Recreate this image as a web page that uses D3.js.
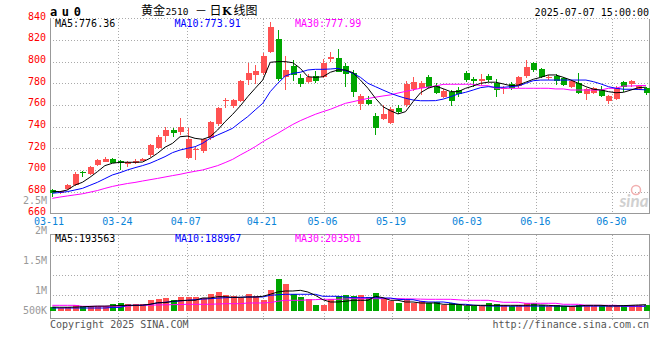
<!DOCTYPE html>
<html>
<head>
<meta charset="utf-8">
<script src="https://cdn.jsdelivr.net/npm/d3@7"></script>
<style>
  body { margin: 0; background: #fff; }
  svg { display: block; }
  text { font-family: "DejaVu Sans Mono", monospace; font-size: 10px; }
</style>
</head>
<body>
<div id="chart"></div>
<script>
// trading days shown (au2510, daily)
var dates = [
  "03-11","03-12","03-13","03-14","03-17","03-18","03-19","03-20","03-21","03-24","03-25","03-26","03-27","03-28","03-31",
  "04-01","04-02","04-03","04-07","04-08","04-09","04-10","04-11","04-14","04-15","04-16","04-17","04-18","04-21","04-22",
  "04-23","04-24","04-25","04-28","04-29","04-30",
  "05-06","05-07","05-08","05-09","05-12","05-13","05-14","05-15","05-16","05-19","05-20","05-21","05-22","05-23",
  "05-26","05-27","05-28","05-29","05-30",
  "06-03","06-04","06-05","06-06","06-09","06-10","06-11","06-12","06-13","06-16","06-17","06-18","06-19","06-20",
  "06-23","06-24","06-25","06-26","06-27","06-30",
  "07-01","07-02","07-03","07-04","07-07"
]

var open = [681.2,679,682.2,686,698.4,696.3,704.6,707.6,710,708.3,705.5,706.7,708.6,713.8,720.6,731.6,737.2,735.3,710.9,718.4,
  717.5,729.2,742.4,763.4,759.3,764,783,787.7,789.2,809.2,820.9,786,796,784.6,781.5,786.7,785.5,802.2,803.6,796,
  789.2,760.6,764.6,749.8,746.8,743.6,757.2,760,774.5,775.4,785.5,777.5,767.6,772,773.8,789.8,784,782.4,787,780.6,
  774.5,779,777.5,786.7,798.5,793.2,784.9,786.7,784.6,776.9,780,769.9,771.3,773.8,764,765.5,781,779,774.8,776]
var high = [682.2,681,687,698.5,699,703.5,710,712,711.5,709,708,710,711.5,724,732,739.4,738.7,748,738.5,721.5,
  729,745.5,758.5,766.7,765.5,783,798.5,797,808,836.9,829.2,805.2,801.5,789,789,791.5,802.2,809.2,811.4,798.5,
  792.3,770,768.5,752.3,760,757.8,760,782.4,785.5,782.4,787.5,780,775,773.8,776.9,791,786,789,788.5,784,
  777.5,781,787,801.5,800,794,787.5,789,785.5,783.5,789.2,775.4,777,777.5,769.2,777.5,782,783.5,778.5,777]
var low = [675.3,678,681.5,685.5,693.8,695.5,704,707,706,700,703,705.5,708,712,719.5,726.1,730.2,732.3,710.5,709.2,
  716,728,741,757,757,763,778.4,779,788,807.7,782.1,773.8,782,776.9,780,780,784.6,800,790.2,776.9,
  767.6,755.3,760,732.3,746,742.4,751.7,757.8,773.2,769.2,776,770,766,759.3,767.6,781,776.9,778.4,781.5,767,
  769.9,773.8,776,785,790,784.6,783.5,778.4,777.5,775.4,770,764.6,770.5,767,760.6,764.6,772,776.5,773.5,769.5]
var close = [678.5,680.5,686,696,697.5,703,709.2,710.4,706.7,706.2,707,708.6,710.4,722.8,730.7,736.9,733.9,740,728.4,719.6,
  728.6,744.6,756.9,764.6,764.6,782,789.2,791.4,805.2,832.3,783.7,792.3,787.7,779.4,785.5,781.8,798.5,804.6,790.7,788.6,
  772.3,768.3,760.9,739,751.7,756,753.8,779.4,781.2,780.6,776.9,771.3,773.2,764,770.2,783,782,784,783,773.8,
  775.4,776,786.1,795.3,792.3,785.5,786.1,782.4,778.4,782.1,770.8,774.5,776,768.3,768.6,776,776.9,782.1,777.5,771.3]

var ma5 = [680.3,680,681.5,686,688.6,693.2,698.4,704,706.2,707.1,707.1,707.1,707.3,710.8,715.4,721,724.6,730.7,731.3,729.2,
  728.3,730.7,736.9,744.6,751.4,759,767.6,775.4,783,799.4,800,800,799,793.8,786.1,785.5,786,790.2,792.3,792.3,
  789.8,783,775.4,766.2,758.4,754.7,751.7,753.8,763,771.3,775.4,777.5,775,772.3,772.3,775.4,777.5,780,781,781,
  779.4,777.8,778.4,781,783.7,785.5,787.7,787.7,785.5,783,780,776.9,774.5,773.8,772.3,771.3,771.7,773.8,776,776.4]
var ma10 = [678.5,679.2,680,681.5,683,685.8,688.6,692,695.4,697.5,700,702.1,704,706.2,709.2,712.3,716,718.4,720,721.5,
  724.6,729.2,732.3,735.3,738.5,744,749.2,755.4,761.5,772.3,780,786.7,789.2,790.2,792.3,792.9,792.9,793.2,793.8,791.6,
  789.2,785.5,780,776.9,773.8,770.8,768.3,766.2,764.6,763.9,763.9,764,765.4,767.6,770.1,771.7,773.8,776,776.9,776.3,
  776.3,776.9,777.5,780,782.4,783,783,783,783,783,783,783,781.5,779.4,776.9,775.4,774.5,774.5,774.3,774]
var ma30 = [673.8,675,676,677,678,679.5,681,683,684.8,686.2,687.5,688.5,689.8,691,692.2,693.5,694.8,696,697.5,698.8,
  700,702,704,706.8,709.8,713.8,717.5,721.5,726,730,733.8,738,742,745.5,748.5,751.4,753.8,756,758.8,761.5,
  763,764.6,766,767.2,768.3,769.3,771,772.5,774,775.4,776.5,777.5,779,779.1,779.1,779.1,779.1,777.8,777.8,775.5,
  775.4,775.4,775.4,775.4,775.4,775.4,775.4,774.8,774.8,773.8,773.8,773.8,773.8,773.8,775.4,775.4,777.5,777.5,777.9,778]

// volume, lots
var volume = [123000,92000,123000,175000,145000,145000,145000,145000,215000,246000,206000,206000,206000,338000,360000,400000,329000,431000,431000,431000,
  400000,523000,585000,483000,452000,409000,523000,462000,338000,646000,994000,831000,514000,431000,360000,194000,194000,360000,452000,483000,
  462000,502000,431000,554000,360000,298000,246000,360000,246000,308000,246000,277000,194000,246000,206000,154000,154000,154000,246000,206000,
  175000,145000,194000,237000,237000,194000,145000,194000,145000,145000,194000,175000,145000,175000,145000,175000,194000,194000,194000,194000]
var volMa5 = [120,115,115,120,130,140,150,150,160,170,175,175,180,206,256,256,298,320,329,329,
  400,400,440,440,421,421,431,431,452,514,585,615,615,636,585,483,348,277,277,298,
  329,329,329,452,410,329,329,277,277,246,246,246,206,206,206,175,175,175,175,175,
  175,175,175,175,185,185,175,160,150,140,150,175,175,175,160,160,165,175,185,194]
var volMa10 = [92,92,92,92,92,92,92,92,110,110,175,175,175,206,246,270,290,308,330,349,
  365,379,395,410,415,421,431,431,431,483,500,514,514,514,514,514,452,452,452,430,
  410,410,410,410,400,400,360,348,348,300,277,277,277,250,206,206,180,165,155,150,
  150,150,150,150,150,150,150,150,150,150,150,150,150,150,150,150,150,150,150,150]
var volMa30 = [175,175,175,175,145,145,145,145,145,145,145,175,175,180,185,190,195,200,206,206,
  206,210,215,225,225,225,246,246,246,260,300,329,329,329,340,350,360,360,360,370,
  379,379,379,379,379,379,379,375,370,365,360,360,360,360,345,329,329,329,329,298,
  268,268,268,237,237,237,237,237,206,206,206,175,175,175,175,175,145,145,145,145]

var priceTicks = [660,680,700,720,740,760,780,800,820,840]
var volTicks = [500000,1000000,1500000,2000000,2500000]
var volTickLabels = ["500K","1M","1.5M","2M","2.5M"]
var dateTicks = ["03-11","03-24","04-07","04-21","05-06","05-19","06-03","06-16","06-30"]

var width = 660, height = 360
var red = "#ff5252", green = "#00a600", grid = "#aaa", frame = "#999"

var svg = d3.select("#chart")
  .append("svg")
  .attr("width", width)
  .attr("height", height)

// scales
var xC = d3.scaleLinear().domain([0, dates.length - 1]).range([52.3, 646])  // candle centres
var xG = d3.scaleLinear().domain([0, dates.length]).range([50, 658])       // date grid
var y = d3.scaleLinear().domain([660, 840]).range([213.3, 18.3])
var yv = d3.scaleLinear().domain([0, 1000000]).range([311, 278.5])
var yvLab = d3.scaleLinear().domain([1000000, 2500000]).range([290.7, 200.7])
var volGrid = d3.scaleLinear().domain([0, 4]).range([235.3, 315.3])

var tickIdx = dateTicks.map(d => dates.indexOf(d))

// ---- grid ----
var g = svg.append("g").attr("shape-rendering", "crispEdges")

g.selectAll(".hgrid")
  .data(priceTicks.filter(v => v > 660))
  .enter().append("line")
  .attr("x1", 50).attr("x2", 650)
  .attr("y1", d => Math.round(y(d)) + 0.5).attr("y2", d => Math.round(y(d)) + 0.5)
  .attr("stroke", grid).attr("stroke-dasharray", "1,2")

g.selectAll(".vgrid")
  .data(tickIdx.slice(1))
  .enter().append("line")
  .attr("x1", d => Math.round(xG(d)) + 0.5).attr("x2", d => Math.round(xG(d)) + 0.5)
  .attr("y1", 19).attr("y2", 213)
  .attr("stroke", grid).attr("stroke-dasharray", "1,2")

g.selectAll(".vgrid2")
  .data(tickIdx.slice(1))
  .enter().append("line")
  .attr("x1", d => Math.round(xG(d)) + 0.5).attr("x2", d => Math.round(xG(d)) + 0.5)
  .attr("y1", 235).attr("y2", 320)
  .attr("stroke", grid).attr("stroke-dasharray", "1,2")

g.selectAll(".vhgrid")
  .data([1, 2, 3])
  .enter().append("line")
  .attr("x1", 50).attr("x2", 650)
  .attr("y1", d => Math.round(volGrid(d)) + 0.5).attr("y2", d => Math.round(volGrid(d)) + 0.5)
  .attr("stroke", grid).attr("stroke-dasharray", "1,2")

// frames
g.append("path").attr("d", "M50.5,18.5V213.5H649.5V18.5").attr("fill", "none").attr("stroke", frame)
g.append("rect").attr("x", 50.5).attr("y", 234.5).attr("width", 599).attr("height", 84)
  .attr("fill", "none").attr("stroke", frame)

// sina watermark
svg.append("circle").attr("cx", 636).attr("cy", 190).attr("r", 4.5)
  .attr("fill", "none").attr("stroke", "#f2b0b0").attr("stroke-width", 1.5)
svg.append("text").attr("x", 634).attr("y", 207).attr("text-anchor", "middle")
  .style("font-family", "Lato, sans-serif").style("font-size", "17px")
  .style("font-style", "italic").style("font-weight", "bold")
  .attr("fill", "#d0d0d0").text("sina")

// ---- candles ----
var candles = svg.append("g").attr("shape-rendering", "crispEdges")
  .selectAll("g").data(dates).enter().append("g")
  .attr("fill", (d, i) => close[i] >= open[i] ? red : green)
  .attr("stroke", (d, i) => close[i] >= open[i] ? red : green)

candles.append("line")
  .attr("x1", (d, i) => Math.round(xC(i)) + 0.5).attr("x2", (d, i) => Math.round(xC(i)) + 0.5)
  .attr("y1", (d, i) => y(high[i])).attr("y2", (d, i) => y(low[i]))

candles.append("rect")
  .attr("stroke", "none")
  .attr("x", (d, i) => Math.round(xC(i)) - 2.5)
  .attr("width", 6)
  .attr("y", (d, i) => y(Math.max(open[i], close[i])))
  .attr("height", (d, i) => Math.max(1, Math.abs(y(open[i]) - y(close[i]))))

// ---- MA lines ----
var line = d3.line().x((d, i) => xC(i)).y(d => y(d))
;[[ma30, "#ff00ff"], [ma10, "#0000ff"], [ma5, "#000"]].forEach(function (s) {
  svg.append("path").datum(s[0]).attr("d", line)
    .attr("fill", "none").attr("stroke", s[1]).attr("stroke-width", 1)
})

// ---- volume ----
svg.append("g").attr("shape-rendering", "crispEdges")
  .selectAll("rect").data(volume).enter().append("rect")
  .attr("x", (d, i) => Math.round(xC(i)) - 2.5)
  .attr("width", 6)
  .attr("y", d => yv(d))
  .attr("height", d => yv(0) - yv(d))
  .attr("fill", (d, i) => close[i] >= open[i] ? red : green)

var vline = d3.line().x((d, i) => xC(i)).y(d => yv(d * 1000))
;[[volMa30, "#ff00ff"], [volMa10, "#0000ff"], [volMa5, "#000"]].forEach(function (s) {
  svg.append("path").datum(s[0]).attr("d", vline)
    .attr("fill", "none").attr("stroke", s[1]).attr("stroke-width", 1)
})

// ---- axis labels ----
svg.selectAll(".plab").data(priceTicks).enter().append("text")
  .attr("x", 46).attr("y", d => y(d) + 1.5)
  .attr("text-anchor", "end").attr("fill", "#f00")
  .text(d => d)

svg.selectAll(".vlab").data(volTicks).enter().append("text")
  .attr("x", 47).attr("y", d => Math.min(yvLab(d), 310.7) + 3.6)
  .attr("text-anchor", "end").attr("fill", "#999")
  .text((d, i) => volTickLabels[i])

svg.selectAll(".xlab").data(tickIdx).enter().append("text")
  .attr("x", d => xG(d) - 1).attr("y", 225)
  .attr("text-anchor", "middle").attr("fill", "#0a84d8")
  .text((d, i) => dateTicks[i])

// ---- header texts ----
svg.append("text").attr("x", 50).attr("y", 15.5)
  .style("font-size", "12px").style("font-weight", "bold").attr("letter-spacing", 4.6)
  .text("au0")

var title = svg.append("text").attr("y", 14.5).style("font-family", '"Noto Sans CJK SC", sans-serif').style("font-size", "12px")
title.append("tspan").attr("x", 141).text("黄金")
title.append("tspan").attr("x", 165.5).style("font-family", '"DejaVu Sans Mono", monospace').style("font-size", "9.5px").text("2510")
title.append("tspan").attr("x", 195).text("－")
title.append("tspan").attr("x", 209.5).text("日")
title.append("tspan").attr("x", 222).style("font-family", '"DejaVu Serif", serif').style("font-weight", "bold").style("font-size", "11px").text("K")
title.append("tspan").attr("x", 233.5).text("线图")

svg.append("text").attr("x", 649).attr("y", 15.5).attr("text-anchor", "end").text("2025-07-07 15:00:00")

var maLabels = [["MA5:776.36", "#000", 55], ["MA10:773.91", "#0000ff", 174.5], ["MA30:777.99", "#ff00ff", 295]]
maLabels.forEach(function (m) {
  svg.append("text").attr("x", m[2]).attr("y", 26.5).attr("fill", m[1]).text(m[0])
})
var vmaLabels = [["MA5:193563", "#000", 55], ["MA10:188967", "#0000ff", 175], ["MA30:203501", "#ff00ff", 295]]
vmaLabels.forEach(function (m) {
  svg.append("text").attr("x", m[2]).attr("y", 241.7).attr("fill", m[1]).text(m[0])
})

svg.append("text").attr("x", 50).attr("y", 327.5).attr("fill", "#555").text("Copyright 2025 SINA.COM")
svg.append("text").attr("x", 649).attr("y", 327.5).attr("text-anchor", "end").attr("fill", "#555").text("http://finance.sina.com.cn")
</script>
</body>
</html>
